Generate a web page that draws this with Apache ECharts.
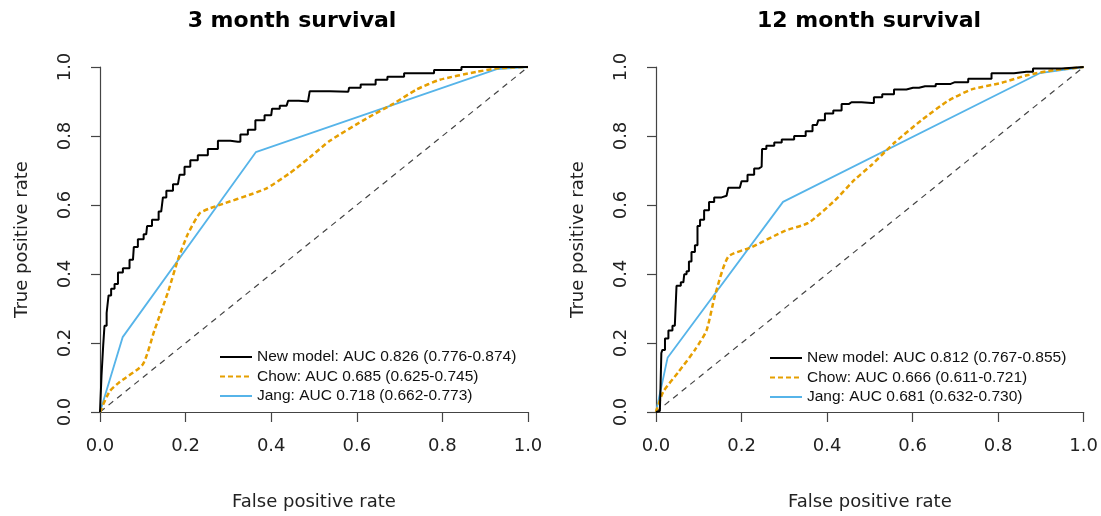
<!DOCTYPE html>
<html>
<head>
<meta charset="utf-8">
<script src="https://cdn.jsdelivr.net/npm/echarts@6/dist/echarts.min.js"></script>
<style>
  html, body { margin: 0; padding: 0; background: #fff; }
  #chart { width: 1101px; height: 516px; }
</style>
</head>
<body>
<div id="chart"></div>
<script>
// 3 month survival, [false positive rate, true positive rate]
var newModel3 = [
  [0, 0], [0.007, 0.105], [0.008, 0.194], [0.013, 0.25], [0.018, 0.287], [0.022, 0.338],
  [0.03, 0.357], [0.038, 0.371], [0.046, 0.404], [0.061, 0.417], [0.077, 0.441], [0.081, 0.478],
  [0.096, 0.501], [0.108, 0.515], [0.112, 0.539], [0.131, 0.557], [0.143, 0.581], [0.151, 0.622],
  [0.159, 0.641], [0.182, 0.66], [0.19, 0.688], [0.205, 0.711], [0.217, 0.73], [0.24, 0.744],
  [0.264, 0.762], [0.287, 0.786], [0.322, 0.783], [0.334, 0.804], [0.357, 0.818], [0.369, 0.846],
  [0.4, 0.86], [0.404, 0.879], [0.436, 0.888], [0.443, 0.902], [0.486, 0.9], [0.494, 0.93],
  [0.58, 0.928], [0.584, 0.94], [0.634, 0.949], [0.654, 0.963], [0.689, 0.972], [0.732, 0.982],
  [0.829, 0.991], [0.86, 1.0], [1.0, 1.0]
];
var chow3 = [
  [0, 0], [0.022, 0.059], [0.046, 0.087], [0.1, 0.138], [0.127, 0.236], [0.159, 0.348],
  [0.182, 0.441], [0.205, 0.515], [0.233, 0.576], [0.256, 0.59], [0.385, 0.646], [0.443, 0.692],
  [0.49, 0.738], [0.537, 0.786], [0.623, 0.851], [0.685, 0.893], [0.74, 0.935], [0.794, 0.963],
  [0.88, 0.986], [0.935, 0.997], [1.0, 1.0]
];
var jang3 = [[0, 0], [0.053, 0.217], [0.364, 0.753], [0.927, 0.994], [1.0, 1.0]];

// 12 month survival
var newModel12 = [
  [0, 0], [0.009, 0.003], [0.012, 0.068], [0.013, 0.171], [0.017, 0.18], [0.025, 0.213],
  [0.033, 0.236], [0.044, 0.25], [0.052, 0.366], [0.064, 0.376], [0.068, 0.399], [0.075, 0.408],
  [0.079, 0.436], [0.087, 0.464], [0.095, 0.483], [0.099, 0.539], [0.107, 0.557], [0.118, 0.585],
  [0.13, 0.609], [0.142, 0.622], [0.165, 0.627], [0.173, 0.65], [0.196, 0.65], [0.204, 0.669],
  [0.224, 0.688], [0.235, 0.706], [0.247, 0.711], [0.249, 0.762], [0.267, 0.772], [0.286, 0.781],
  [0.302, 0.79], [0.344, 0.8], [0.356, 0.814], [0.376, 0.832], [0.383, 0.846], [0.407, 0.865],
  [0.422, 0.874], [0.446, 0.893], [0.457, 0.898], [0.504, 0.896], [0.515, 0.912], [0.543, 0.921],
  [0.57, 0.935], [0.601, 0.94], [0.629, 0.944], [0.679, 0.951], [0.699, 0.956], [0.761, 0.966],
  [0.808, 0.982], [0.866, 0.986], [0.897, 0.996], [1.0, 1.0]
];
var chow12 = [
  [0, 0], [0.017, 0.059], [0.052, 0.115], [0.091, 0.18], [0.118, 0.236], [0.138, 0.338],
  [0.169, 0.45], [0.224, 0.478], [0.301, 0.525], [0.356, 0.548], [0.418, 0.613], [0.465, 0.674],
  [0.504, 0.716], [0.558, 0.781], [0.621, 0.846], [0.683, 0.902], [0.738, 0.935], [0.808, 0.954],
  [0.87, 0.977], [0.932, 0.991], [1.0, 1.0]
];
var jang12 = [[0, 0], [0.027, 0.157], [0.297, 0.609], [0.897, 0.982], [1.0, 1.0]];

var diagonal = [[0, 0], [1, 1]];

var titles = ['3 month survival', '12 month survival'];
var names3 = ['New model: AUC 0.826 (0.776-0.874)', 'Chow: AUC 0.685 (0.625-0.745)', 'Jang: AUC 0.718 (0.662-0.773)'];
var names12 = ['New model: AUC 0.812 (0.767-0.855)', 'Chow: AUC 0.666 (0.611-0.721)', 'Jang: AUC 0.681 (0.632-0.730)'];

var myChart = echarts.init(document.getElementById('chart'));
var font = 'DejaVu Sans';
var axisColor = '#444';

function xAxisOf(i) {
  return {
    type: 'value', gridIndex: i, min: 0, max: 1, interval: 0.2,
    name: 'False positive rate', nameLocation: 'middle', nameGap: 81,
    nameTextStyle: { fontFamily: font, fontSize: 18, color: '#222' },
    axisLine: { lineStyle: { color: axisColor, width: 1.2 } },
    axisTick: { inside: false, length: 10, lineStyle: { color: axisColor, width: 1.2 } },
    axisLabel: { fontFamily: font, fontSize: 18, color: '#222', margin: 25, formatter: function (v) { return v.toFixed(1); } },
    splitLine: { show: false }
  };
}
function yAxisOf(i) {
  return {
    type: 'value', gridIndex: i, min: 0, max: 1, interval: 0.2,
    name: 'True positive rate', nameLocation: 'middle', nameGap: 69,
    nameTextStyle: { fontFamily: font, fontSize: 18, color: '#222' },
    axisLine: { lineStyle: { color: axisColor, width: 1.2 } },
    axisTick: { inside: false, length: 9, lineStyle: { color: axisColor, width: 1.2 } },
    axisLabel: { fontFamily: font, fontSize: 18, color: '#222', rotate: 90, margin: 26, formatter: function (v) { return v.toFixed(1); } },
    splitLine: { show: false }
  };
}

function curves(i, names, nm, ch, jg) {
  return [
    { name: 'diag' + i, type: 'line', xAxisIndex: i, yAxisIndex: i, data: diagonal, showSymbol: false, symbol: 'none',
      lineStyle: { color: '#444', width: 1.2, type: [6, 5] }, silent: true, z: 1 },
    { name: names[1], type: 'line', xAxisIndex: i, yAxisIndex: i, data: ch, symbol: 'none', smooth: 0.2,
      itemStyle: { color: '#E69F00' }, lineStyle: { color: '#E69F00', width: 2.5, type: [5, 3] }, z: 3 },
    { name: names[2], type: 'line', xAxisIndex: i, yAxisIndex: i, data: jg, symbol: 'none',
      itemStyle: { color: '#56B4E9' }, lineStyle: { color: '#56B4E9', width: 1.8 }, z: 2 },
    { name: names[0], type: 'line', xAxisIndex: i, yAxisIndex: i, data: nm, symbol: 'none', step: 'middle',
      itemStyle: { color: '#000' }, lineStyle: { color: '#000', width: 2 }, z: 4 }
  ];
}

function legendOf(left, top, names) {
  return {
    orient: 'vertical', left: left, top: top, itemWidth: 32, itemHeight: 14, itemGap: 3.5,
    data: names, selectedMode: false,
    itemStyle: { opacity: 0 },
    textStyle: { fontFamily: 'Liberation Sans', fontSize: 15.5, lineHeight: 14, color: '#111' }
  };
}

var option = {
  animation: false,
  backgroundColor: '#fff',
  title: [
    { text: titles[0], left: 287, top: 5, textAlign: 'center', textStyle: { fontFamily: font, fontSize: 22, fontWeight: 'bold', color: '#000' } },
    { text: titles[1], left: 864, top: 5, textAlign: 'center', textStyle: { fontFamily: font, fontSize: 22, fontWeight: 'bold', color: '#000' } }
  ],
  grid: [
    { left: 100, right: 573, top: 67, bottom: 92 },
    { left: 656, right: 17, top: 67, bottom: 92 }
  ],
  xAxis: [xAxisOf(0), xAxisOf(1)],
  yAxis: [yAxisOf(0), yAxisOf(1)],
  legend: [legendOf(214, 344, names3), legendOf(764, 345, names12)],
  series: curves(0, names3, newModel3, chow3, jang3).concat(curves(1, names12, newModel12, chow12, jang12))
};

myChart.setOption(option);
</script>
</body>
</html>
